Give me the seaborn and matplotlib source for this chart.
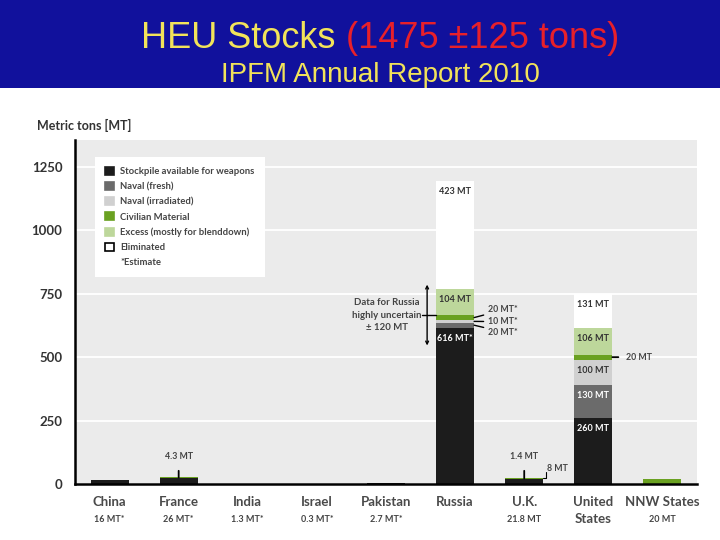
import matplotlib
matplotlib.use("Agg")
import matplotlib.pyplot as plt
import matplotlib.transforms as mtransforms
from matplotlib.patches import Patch, Rectangle
import seaborn as sns
import pandas as pd
import numpy as np

# ---------------- data ----------------
countries = ["China", "France", "India", "Israel", "Pakistan", "Russia", "U.K.", "United\nStates", "NNW States"]
amount_labels = ["16 MT*", "26 MT*", "1.3 MT*", "0.3 MT*", "2.7 MT*", "", "21.8 MT", "", "20 MT"]
weapons = [16, 21.7, 1.3, 0.3, 2.7, 616, 20.4, 260, 0]
naval_fresh = [0, 0, 0, 0, 0, 20, 0, 130, 0]
naval_irr = [0, 0, 0, 0, 0, 10, 0, 100, 0]
civilian = [0, 4.3, 0, 0, 0, 20, 1.4, 20, 20]
excess = [0, 0, 0, 0, 0, 104, 0, 106, 0]
eliminated = [0, 0, 0, 0, 0, 423, 0, 131, 0]
layer_names = ["Stockpile available for weapons", "Naval (fresh)", "Naval (irradiated)",
               "Civilian Material", "Excess (mostly for blenddown)", "Eliminated"]
layer_colors = ["#1c1c1c", "#6b6b6b", "#d0d0d0", "#6aa121", "#bdd79b", "#ffffff"]
yticks = [0, 250, 500, 750, 1000, 1250]
russia_uncertainty = 120

NARROW = ["Lato", "DejaVu Sans"]
TITLEF = ["Liberation Sans", "DejaVu Sans"]

sns.set_style("white")
plt.rcParams["font.family"] = NARROW

layers = [weapons, naval_fresh, naval_irr, civilian, excess, eliminated]
cum = np.cumsum(np.array(layers, dtype=float), axis=0)

fig = plt.figure(figsize=(7.2, 5.4), dpi=100)
fig.patch.set_facecolor("white")
fig.patches.append(Rectangle((0, 1 - 88 / 540), 1, 88 / 540, transform=fig.transFigure,
                             facecolor="#11119c", edgecolor="none", zorder=0))

ax = fig.add_axes([75 / 720, 1 - 484 / 540, 622 / 720, 344 / 540])
ax.set_facecolor("#ebebeb")

W = 0.55
for i in reversed(range(len(layers))):
    df = pd.DataFrame({"country": countries, "value": cum[i]})
    sns.barplot(data=df, x="country", y="value", order=countries, color=layer_colors[i],
                saturation=1, width=W, errorbar=None, linewidth=0, ax=ax, zorder=2)

ax.set_xlim(-0.5, len(countries) - 0.5)
ax.set_ylim(0, 1356)
ax.set_yticks(yticks)
ax.set_yticklabels([str(v) for v in yticks], fontsize=9.5, color="#333333", fontweight="bold")
ax.yaxis.grid(True, color="white", lw=1.3, zorder=1)
ax.set_axisbelow(True)
ax.tick_params(axis="y", length=0, pad=9)
ax.set_xlabel("")
ax.set_ylabel("")
for s in ["top", "right"]:
    ax.spines[s].set_visible(False)
for s in ["left", "bottom"]:
    ax.spines[s].set_color("black")
    ax.spines[s].set_linewidth(1.8)

ax.set_xticks(range(len(countries)))
ax.set_xticklabels(countries, fontsize=9.5, fontweight="bold", color="#4a4a4a")
ax.tick_params(axis="x", which="major", length=0, pad=9)
for lbl in ax.get_xticklabels():
    if "\n" in lbl.get_text():
        lbl.set_linespacing(1.45)
ax.set_xticks(np.arange(0.5, len(countries), 1.0), minor=True)
ax.tick_params(axis="x", which="minor", length=5, width=1.3, color="black", direction="out")

trans = mtransforms.blended_transform_factory(ax.transData, ax.transAxes)
for i, t in enumerate(amount_labels):
    if t:
        ax.text(i, -0.102, t, transform=trans, ha="center", va="center",
                fontsize=6.5, fontweight="bold", color="#444444")

fig.text(37 / 720, 1 - 125 / 540, "Metric tons [MT]", fontsize=9, color="#333333",
         ha="left", va="center", fontweight="bold")

# legend
handles = []
for n, c in zip(layer_names, layer_colors):
    ec = "black" if c == "#ffffff" else c
    handles.append(Patch(facecolor=c, edgecolor=ec, linewidth=1.2, label=n))
handles.append(Patch(facecolor="none", edgecolor="none", label="*Estimate"))
leg = ax.legend(handles=handles, loc="upper left", bbox_to_anchor=(0.032, 0.951),
                frameon=True, facecolor="white", edgecolor="none", fancybox=False,
                fontsize=6.8, handlelength=0.9, handleheight=0.9, labelspacing=0.62,
                borderpad=1.1, borderaxespad=0, handletextpad=0.7)
leg.get_frame().set_alpha(1)
for t in leg.get_texts():
    t.set_color("#444444")
    t.set_fontweight("bold")

# segment labels inside bars
def seg_label(xi, top, text, color):
    ax.annotate(text, xy=(xi, top), xytext=(0, -7.5), textcoords="offset points",
                ha="center", va="center", fontsize=6.5, fontweight="bold", color=color, zorder=5)

ru = countries.index("Russia")
us = countries.index("United\nStates")
seg_label(ru, cum[5][ru], "423 MT", "#333333")
seg_label(ru, cum[4][ru], "104 MT", "#333333")
seg_label(ru, cum[0][ru], "616 MT*", "white")
seg_label(us, cum[5][us], "131 MT", "#333333")
seg_label(us, cum[4][us], "106 MT", "#333333")
seg_label(us, cum[2][us], "100 MT", "#333333")
seg_label(us, cum[1][us], "130 MT", "white")
seg_label(us, cum[0][us], "260 MT", "white")

afs = 6.3
# Russia uncertainty
core = cum[3][ru]
ax.annotate("", xy=(ru - W / 2 - 0.13, core + russia_uncertainty),
            xytext=(ru - W / 2 - 0.13, core - russia_uncertainty),
            arrowprops=dict(arrowstyle="<->", lw=1, color="black", mutation_scale=5,
                            shrinkA=0, shrinkB=0), zorder=5)
ax.plot([ru - 0.48, ru - W / 2], [core, core], color="black", lw=1, zorder=5)
ax.text(ru - 0.99, core, "Data for Russia\nhighly uncertain\n\u00b1 120 MT", ha="center",
        va="center", fontsize=6.9, fontweight="bold", color="#444444", linespacing=1.45)

# Russia small components
mids = [(cum[3][ru] + cum[2][ru]) / 2, (cum[2][ru] + cum[1][ru]) / 2, (cum[1][ru] + cum[0][ru]) / 2]
texts = ["20 MT*", "10 MT*", "20 MT*"]
ty = [core + 20, mids[1] - 1, mids[2] - 27]
for m, t, yy in zip(mids, texts, ty):
    ax.annotate(t, xy=(ru + W / 2, m), xytext=(ru + 0.48, yy), ha="left", va="center",
                fontsize=afs, fontweight="bold", color="#444444",
                arrowprops=dict(arrowstyle="-", lw=1, color="black", shrinkA=1, shrinkB=0))

# US civilian
um = (cum[3][us] + cum[2][us]) / 2
ax.annotate("20 MT", xy=(us + W / 2, um), xytext=(us + 0.47, um), ha="left", va="center",
            fontsize=afs, fontweight="bold", color="#444444",
            arrowprops=dict(arrowstyle="-", lw=1.3, color="black", shrinkA=3, shrinkB=0))

# France civilian
fr = countries.index("France")
ax.annotate("4.3 MT", xy=(fr, cum[5][fr]), xytext=(fr, 110), ha="center", va="center",
            fontsize=afs, fontweight="bold", color="#444444",
            arrowprops=dict(arrowstyle="-", lw=1.3, color="black", shrinkA=5, shrinkB=0))

# UK
uk = countries.index("U.K.")
ax.annotate("1.4 MT", xy=(uk, cum[5][uk]), xytext=(uk, 110), ha="center", va="center",
            fontsize=afs, fontweight="bold", color="#444444",
            arrowprops=dict(arrowstyle="-", lw=1.3, color="black", shrinkA=5, shrinkB=0))
ax.plot([uk + W / 2, uk + 0.31, uk + 0.31], [cum[5][uk], cum[5][uk], 48], color="black", lw=0.8, zorder=5)
ax.text(uk + 0.33, 60, "8 MT", ha="left", va="center", fontsize=afs, fontweight="bold", color="#444444")

# title
t1 = fig.text(0, 1 - 39 / 540, "HEU Stocks", fontsize=26, color="#f2e35a", family=TITLEF,
              ha="left", va="center")
t2 = fig.text(0, 1 - 39 / 540, "(1475 \u00b1125 tons)", fontsize=26, color="#e8202a",
              family=TITLEF, ha="left", va="center")
fig.text(380 / 720, 1 - 75 / 540, "IPFM Annual Report 2010", fontsize=20, color="#f2e35a",
         family=TITLEF, ha="center", va="center")
fig.canvas.draw()
r = fig.canvas.get_renderer()
w1 = t1.get_window_extent(r).width
w2 = t2.get_window_extent(r).width
gap = 10
start = 380 - (w1 + gap + w2) / 2
t1.set_x(start / 720)
t2.set_x((start + w1 + gap) / 720)

fig.savefig("out.png", dpi=100)
